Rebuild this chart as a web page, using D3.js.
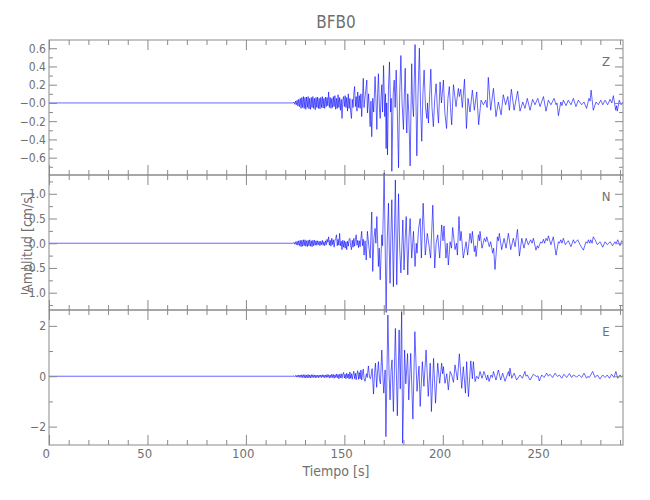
<!DOCTYPE html>
<html>
<head>
<meta charset="utf-8">
<script src="https://cdn.jsdelivr.net/npm/d3@7"></script>
<style>
  html, body { margin: 0; padding: 0; background: #fff; }
  svg text { font-family: "Liberation Sans Narrow", "DejaVu Sans Condensed", "Roboto Condensed", "Liberation Sans", sans-serif; font-stretch: condensed; fill: #707070; }
</style>
</head>
<body>
<svg id="chart" width="650" height="500"></svg>
<script>
// ---------------- DATA ----------------
const title = "BFB0";
const xLabel = "Tiempo [s]";
const yLabel = "Amplitud [cm/s]";
const components = ["Z", "N", "E"];
const timeEnd = 291.5;
const quietStart = 0;          // trace is at rest from here until the onset
const onsetStart = 124;        // first P-wave sample (s)
const onsetStep = 0.4;         // spacing of onset samples (s)

const zRange = [-0.79, 0.69];
const nRange = [-1.35, 1.38];
const eRange = [-2.73, 2.63];

const xMajorTicks = [0, 50, 100, 150, 200, 250];
const xMinorTicks = [10,20,30,40,60,70,80,90,110,120,130,140,160,170,180,190,210,220,230,240,260,270,280,290];
const zMajorTicks = [-0.6, -0.4, -0.2, 0, 0.2, 0.4, 0.6];
const zTickLabels = ["\u22120.6", "\u22120.4", "\u22120.2", "\u22120.0", "0.2", "0.4", "0.6"];
const zMinorTicks = [-0.7, -0.5, -0.3, -0.1, 0.1, 0.3, 0.5];
const nMajorTicks = [-1, -0.5, 0, 0.5, 1];
const nTickLabels = ["\u22121.0", "\u22120.5", "0.0", "0.5", "1.0"];
const nMinorTicks = [-1.25, -0.75, -0.25, 0.25, 0.75, 1.25];
const eMajorTicks = [-2, 0, 2];
const eTickLabels = ["\u22122", "0", "2"];
const eMinorTicks = [-1, 1];

// onset (124 s - 160 s), uniformly spaced samples
const zOnset = [0,0.01,-0.015,0.02,-0.02, 0.03,-0.035,0.04,-0.04,0.05, -0.06,0.06,-0.05,0.07,-0.06,
  0.06,-0.07,0.065,-0.05,0.07, -0.065,0.05,-0.07,0.06,-0.05, 0.07,-0.06,0.05,-0.075,0.06,
  -0.05,0.065,-0.06,0.05,-0.065, 0.06,-0.05,0.07,-0.055,0.05, -0.06,0.065,-0.04,0.06,-0.03,
  0.12,-0.05,0.06,-0.06,0.05, -0.05,0.07,-0.04,0.08,-0.07, 0.05,-0.06,0.09,-0.05,0.06,
  -0.08,0.04,-0.17,0.03,0.07, -0.04,0.08,-0.05,0.06,-0.09, 0.1,-0.06,0.05,-0.1,-0.17,
  0.04,-0.05,0.1,0.18,-0.04, 0.07,-0.09,0.12,-0.05,0.08, -0.06,0.1,-0.15,0.05,0.27, -0.05];
const nOnset = [0,0.015,-0.02,0.03,-0.03, 0.04,-0.04,0.05,-0.05,0.06, -0.07,0.06,-0.06,0.07,-0.05,
  0.07,-0.06,0.05,-0.07,0.06, -0.05,0.07,-0.06,0.05,-0.07, 0.06,-0.05,0.06,-0.04,0.05,
  -0.04,0.05,-0.03,0.04,-0.05, 0.04,-0.03,0.06,-0.04,0.03, -0.05,0.05,-0.03,0.08,0.02,
  0.13,-0.04,0.06,-0.06,0.1, -0.03,0.07,-0.08,0.05,0.1, 0.17,-0.05,0.08,-0.04,0.2,
  -0.05,0.04,-0.13,0.06,-0.08, 0.05,-0.1,0.03,-0.13,0.04, -0.06,0.08,0.1,-0.05,-0.13,
  0.06,-0.08,0.1,-0.06,0.08, 0.17,-0.04,0.06,-0.09,0.05, -0.07,0.1,0.24,-0.05,0.08, -0.24];
const eOnset = [0,0.02,-0.02,0.03,-0.03, 0.04,-0.04,0.05,-0.04,0.05, -0.05,0.06,-0.05,0.06,-0.06,
  0.06,-0.07,0.05,-0.06,0.07, -0.06,0.05,-0.07,0.06,-0.05, 0.06,-0.05,0.05,-0.06,0.05,
  -0.05,0.04,-0.06,0.05,-0.04, 0.05,-0.05,0.06,-0.04,0.05, -0.06,0.05,-0.05,0.07,-0.04,
  0.06,-0.07,0.05,-0.06,0.08, -0.05,0.07,-0.08,0.06,-0.05, 0.09,-0.06,0.07,-0.1,0.08,
  -0.06,0.1,-0.08,0.07,0.15, -0.07,0.08,-0.1,0.12,-0.06, 0.09,-0.11,0.17,-0.08,0.1,
  -0.12,0.08,0.2,-0.1,0.12, -0.14,0.1,0.22,-0.12,0.15, -0.1,0.25,-0.15,0.12,0.28, -0.1];

// main phases and coda: [time (s), amplitude (cm/s)] at the turning points
const zPeaks = [[160.6,0.08],[161.4,0.25],[161.7,-0.11],[162.3,0.1],[163.1,-0.26],[163.5,0.02],[163.9,-0.37],[164.4,0.05],[164.9,-0.1],[165.6,0.29],[166.1,0],[166.5,-0.29],[166.9,0.1],[167.3,0.32],[167.8,-0.05],[168.2,-0.17],[168.6,0.05],[169.0,0.2],[169.4,-0.1],[169.9,0.41],[170.5,-0.15],[170.9,0.1],[171.2,-0.5],[171.5,0],[171.9,-0.57],[172.4,0.15],[172.9,0.45],[173.5,-0.1],[173.8,0.05],[174.1,-0.75],[174.8,0.1],[175.3,0.25],[175.8,-0.05],[176.3,0.36],[176.9,-0.1],[177.5,-0.71],[178.1,0.1],[178.7,0.52],[179.3,0],[180.0,-0.29],[180.4,0.05],[180.9,0.38],[181.3,-0.1],[181.7,-0.33],[182.2,0.1],[182.7,-0.1],[183.4,-0.69],[184.2,0.43],[184.6,0],[185.1,-0.15],[185.9,0.64],[186.8,-0.58],[187.4,0.1],[188.1,0.6],[188.7,-0.05],[189.3,-0.42],[189.9,0.1],[190.5,0.36],[191.2,-0.05],[191.9,-0.17],[192.2,0],[192.7,-0.22],[193.9,0.37],[194.5,-0.05],[195.2,-0.26],[195.9,0.05],[196.6,0.21],[197.2,-0.05],[197.8,-0.22],[198.6,0.23],[199.3,0],[200.3,0.25],[201.0,-0.1],[201.9,-0.28],[202.6,0.05],[203.3,0.18],[203.9,-0.05],[204.5,-0.24],[205.4,0.2],[206.7,-0.04],[207.9,0.16],[208.4,0.07],[209.1,0.15],[209.9,-0.05],[211.0,0.26],[212.0,-0.28],[212.8,0.05],[213.8,-0.1],[215.0,0.14],[216.0,-0.08],[217.2,0.12],[218.2,-0.24],[219.4,0.03],[220.6,-0.02],[221.8,0.03],[222.5,-0.05],[223.1,0.28],[224.3,-0.08],[225.7,0.16],[227.0,-0.15],[228.2,0.01],[229.6,-0.13],[230.7,0.09],[231.9,-0.02],[233.0,0.07],[233.8,-0.08],[234.8,0.15],[236.2,-0.08],[238.0,0.13],[239.2,-0.09],[240.6,0.01],[241.7,-0.06],[242.9,0.05],[244.3,-0.08],[245.6,0.04],[246.8,-0.02],[248.2,0.05],[249.4,-0.04],[251.1,0.07],[252.4,-0.09],[253.6,0.03],[254.9,-0.02],[256.5,0.05],[257.5,-0.02],[258.0,0],[258.7,-0.14],[259.9,0.01],[260.5,-0.03],[261.2,0.03],[262.6,-0.03],[263.7,0.03],[265.1,-0.02],[266.3,0.05],[267.6,-0.04],[268.8,0.03],[270.5,-0.02],[271.7,0.01],[273.0,-0.06],[274.2,0.05],[274.8,0.02],[275.3,0.14],[276.4,-0.08],[277.8,0.01],[279.0,-0.02],[280.2,0.03],[281.2,-0.02],[282.4,0.03],[283.7,-0.02],[284.9,0.04],[285.8,0],[286.6,0.08],[287.8,-0.08],[288.2,-0.03],[288.6,-0.09],[289.6,0.03],[290.5,-0.02],[291.5,0.01]];

const nPeaks = [[160.5,0.05],[161.1,-0.34],[161.7,0.24],[162.4,-0.05],[163.1,-0.3],[163.9,0.63],[164.4,-0.57],[165.0,0.1],[165.6,0.3],[166.0,0],[166.5,0.54],[167.3,-0.47],[167.7,-0.1],[168.2,-0.74],[169.0,0.17],[169.4,-0.05],[170.2,1.42],[171.2,-1.4],[171.8,0.1],[172.4,0.81],[172.8,-0.1],[173.2,-0.81],[173.6,0.1],[174.1,0.88],[174.5,0],[174.9,-0.88],[175.9,1.28],[176.6,-0.84],[177.5,1.0],[178.1,-0.1],[178.7,-0.6],[179.7,0.47],[180.3,-0.54],[180.9,0.1],[181.4,0.54],[182.2,-0.64],[182.8,0.1],[183.4,0.5],[184.2,-0.3],[185.1,0.24],[185.9,-0.47],[186.5,0],[186.9,-0.2],[187.7,0.3],[188.5,0.5],[189.1,-0.3],[190.0,0.81],[191.1,-0.24],[192.1,0.2],[193.0,-0.05],[193.8,-0.3],[194.9,0.77],[195.9,-0.5],[196.6,0],[197.4,0.17],[198.4,-0.3],[199.4,0.37],[200.1,0.05],[200.6,0.35],[201.6,-0.3],[202.2,0],[202.8,-0.44],[203.7,0.03],[204.4,-0.1],[205.0,0.32],[206.2,-0.13],[206.9,0],[207.4,-0.24],[208.2,0.54],[208.8,0.05],[209.3,0.24],[210.4,-0.3],[211.8,0.03],[212.6,-0.24],[213.8,0.2],[214.5,0],[215.0,0.24],[216.0,-0.17],[216.5,-0.05],[216.9,-0.27],[218.1,0.17],[218.6,0.05],[218.9,0.24],[219.9,-0.1],[221.1,0.1],[221.8,0.03],[222.3,0.13],[223.6,-0.07],[224.3,0.03],[225.3,-0.2],[225.8,-0.1],[226.5,-0.53],[227.7,0.13],[228.2,0.05],[228.7,0.2],[229.9,-0.13],[231.1,0.1],[232.1,-0.1],[233.3,0.2],[234.5,-0.13],[235.8,0.1],[236.7,-0.07],[237.9,0.28],[238.9,-0.26],[240.1,0.1],[241.2,-0.1],[242.3,0.1],[243.4,-0.03],[244.6,0.07],[245.3,0],[246.0,0.1],[247.3,-0.14],[248.0,-0.05],[248.5,-0.1],[249.7,0.03],[250.4,0],[251.1,0.08],[251.7,0],[252.4,0.1],[253.1,0.05],[253.6,0.15],[254.9,-0.03],[256.1,0.13],[257.5,-0.24],[258.7,0.03],[259.2,0],[259.9,0.07],[260.5,0],[261.2,0.1],[262.2,-0.03],[263.7,0.05],[265.1,-0.07],[266.3,0.07],[267.0,0],[267.6,0.03],[268.5,0.07],[269.7,-0.03],[271.4,-0.14],[272.7,0.03],[273.4,0],[273.9,0.07],[274.6,0],[275.1,0.07],[275.8,0],[276.4,0.13],[277.3,0.07],[278.5,-0.03],[279.8,0.03],[281.2,-0.08],[282.4,0.03],[283.5,-0.03],[284.9,0.03],[286.2,-0.05],[287.4,0.03],[288.1,0],[288.8,0.07],[290.0,-0.05],[290.8,0.05],[291.5,0.02]];

const ePeaks = [[160.5,-0.2],[161.2,0.1],[161.6,-0.05],[162.2,0.41],[162.8,-0.05],[163.3,-0.1],[163.7,0.1],[164.1,0.3],[164.8,-0.71],[165.3,0.1],[165.8,0.52],[166.4,-0.44],[166.8,0.1],[167.3,0.58],[167.8,-0.1],[168.3,-0.3],[169.0,1.04],[169.5,0.1],[170.0,-0.67],[170.7,0.25],[171.1,-2.4],[172.1,2.43],[172.7,0.1],[173.2,-0.94],[173.7,0.2],[174.2,0.65],[174.9,-1.4],[175.9,1.9],[176.9,-1.57],[177.8,1.84],[178.4,-0.5],[179.1,2.57],[179.6,-2.66],[180.6,1.04],[181.2,-0.3],[182.1,0.9],[182.7,-0.94],[183.7,0.91],[184.8,-1.7],[185.8,1.77],[186.9,-0.6],[187.9,0.4],[188.5,-1.2],[189.6,0.58],[190.4,-0.4],[191.5,1.04],[192.6,-0.8],[193.6,0.52],[194.2,-1.4],[195.3,0.71],[196.3,-1.07],[197.4,0.52],[198.4,-0.28],[199.4,0.52],[199.9,0.1],[200.3,0.38],[201.1,-0.28],[202.0,0.1],[202.8,-0.54],[203.7,0.19],[204.5,0.05],[205.4,-0.24],[206.2,0.45],[207.4,-0.15],[208.4,0.89],[209.6,-0.48],[210.4,0.38],[211.5,-0.67],[212.1,0.58],[213.0,-0.81],[214.2,0.61],[215.0,-0.1],[215.5,0.58],[216.4,-0.21],[217.2,0],[218.1,-0.1],[218.9,0.19],[219.9,-0.08],[220.9,0.19],[222.3,-0.15],[222.8,0.05],[223.5,-0.21],[224.5,0.05],[225.2,-0.05],[225.7,0.19],[227.0,-0.15],[228.2,0.25],[229.4,-0.15],[230.4,0.12],[231.6,-0.2],[233.3,0.19],[233.8,0],[234.1,0.32],[235.0,-0.08],[236.2,0.12],[237.5,-0.15],[239.2,0.05],[240.4,-0.08],[241.7,0.19],[242.2,0],[242.9,0.05],[244.3,-0.15],[246.0,0.08],[247.7,-0.02],[248.3,0.02],[249.0,-0.19],[250.2,0.05],[251.4,-0.05],[252.7,0.12],[253.6,0],[254.4,0.08],[255.8,-0.05],[257.0,0.12],[258.2,-0.01],[259.2,0.05],[260.4,-0.08],[261.5,0.08],[262.9,-0.05],[264.3,0.11],[265.4,-0.05],[266.3,0.05],[268.0,-0.03],[269.3,0.05],[270.5,-0.05],[271.7,0.12],[273.0,-0.08],[273.7,0],[274.4,-0.05],[276.1,0.19],[277.3,-0.05],[278.5,0.05],[279.8,-0.11],[281.2,0.05],[282.4,-0.05],[283.5,0.05],[284.6,-0.08],[285.7,0.08],[286.9,-0.05],[287.9,0.19],[288.8,-0.08],[290.0,0.05],[290.8,-0.01],[291.5,0.02]];

// ---------------- DRAWING ----------------
const svg = d3.select("#chart");
const frameColor = "#8a8a8a";
const left = 49, right = 623;
const panelTops = [40, 175, 310];
const panelH = 135;

const x = d3.scaleLinear().domain([0, timeEnd]).range([left, right]);

function buildSeries(onset, peaks) {
  return [[quietStart, 0]]
    .concat(onset.map((v, i) => [onsetStart + i * onsetStep, v]))
    .concat(peaks);
}

const panels = [
  { name: components[0], range: zRange, major: zMajorTicks, labels: zTickLabels, minor: zMinorTicks, data: buildSeries(zOnset, zPeaks) },
  { name: components[1], range: nRange, major: nMajorTicks, labels: nTickLabels, minor: nMinorTicks, data: buildSeries(nOnset, nPeaks) },
  { name: components[2], range: eRange, major: eMajorTicks, labels: eTickLabels, minor: eMinorTicks, data: buildSeries(eOnset, ePeaks) }
];

function styleAxis(g) {
  g.select(".domain").remove();
  g.selectAll(".tick line").attr("stroke", frameColor).attr("stroke-width", 1);
  g.selectAll(".tick text").attr("fill", "#707070").style("font-size", "12px");
}

panels.forEach((p, i) => {
  const top = panelTops[i], bottom = top + panelH;
  const y = d3.scaleLinear().domain(p.range).range([bottom, top]);
  const g = svg.append("g");

  // trace
  g.append("path")
    .datum(p.data)
    .attr("fill", "none")
    .attr("stroke", "#0000ff")
    .attr("stroke-width", 0.6)
    .attr("stroke-linejoin", "round")
    .attr("d", d3.line().x(d => x(d[0])).y(d => y(d[1])));

  // x ticks (top & bottom, inward)
  const isLast = i === panels.length - 1;
  g.append("g").attr("transform", `translate(0,${bottom})`)
    .call(d3.axisBottom(x).tickValues(xMajorTicks).tickSize(-10).tickPadding(4)
      .tickFormat(isLast ? d3.format("d") : () => ""))
    .call(styleAxis)
    .call(a => a.selectAll(".tick text").attr("dx", "-0.25em").style("font-size", "13px"));
  g.append("g").attr("transform", `translate(0,${bottom})`)
    .call(d3.axisBottom(x).tickValues(xMinorTicks).tickSize(-5).tickFormat(() => ""))
    .call(styleAxis);
  g.append("g").attr("transform", `translate(0,${top})`)
    .call(d3.axisTop(x).tickValues(xMajorTicks).tickSize(-10).tickFormat(() => ""))
    .call(styleAxis);
  g.append("g").attr("transform", `translate(0,${top})`)
    .call(d3.axisTop(x).tickValues(xMinorTicks).tickSize(-5).tickFormat(() => ""))
    .call(styleAxis);

  // y ticks (left & right, inward)
  g.append("g").attr("transform", `translate(${left},0)`)
    .call(d3.axisLeft(y).tickValues(p.major).tickSize(-8).tickPadding(3)
      .tickFormat((d, k) => p.labels[k]))
    .call(styleAxis);
  g.append("g").attr("transform", `translate(${left},0)`)
    .call(d3.axisLeft(y).tickValues(p.minor).tickSize(-4).tickFormat(() => ""))
    .call(styleAxis);
  g.append("g").attr("transform", `translate(${right},0)`)
    .call(d3.axisRight(y).tickValues(p.major).tickSize(-8).tickFormat(() => ""))
    .call(styleAxis);
  g.append("g").attr("transform", `translate(${right},0)`)
    .call(d3.axisRight(y).tickValues(p.minor).tickSize(-4).tickFormat(() => ""))
    .call(styleAxis);

  // frame
  g.append("rect")
    .attr("x", left).attr("y", top)
    .attr("width", right - left).attr("height", panelH)
    .attr("fill", "none").attr("stroke", frameColor).attr("stroke-width", 1);

  // component label
  g.append("text")
    .attr("x", right - 17).attr("y", top + 26)
    .attr("text-anchor", "middle")
    .style("font-size", "13px")
    .text(p.name);
});

// titles
svg.append("text")
  .attr("x", (left + right) / 2).attr("y", 28)
  .attr("text-anchor", "middle")
  .style("font-size", "17px")
  .text(title);

svg.append("text")
  .attr("x", (left + right) / 2).attr("y", 476)
  .attr("text-anchor", "middle")
  .style("font-size", "14px")
  .text(xLabel);

svg.append("text")
  .attr("transform", `translate(32,${panelTops[1] + panelH / 2}) rotate(-90)`)
  .attr("text-anchor", "middle")
  .style("font-size", "14px")
  .text(yLabel);
</script>
</body>
</html>
